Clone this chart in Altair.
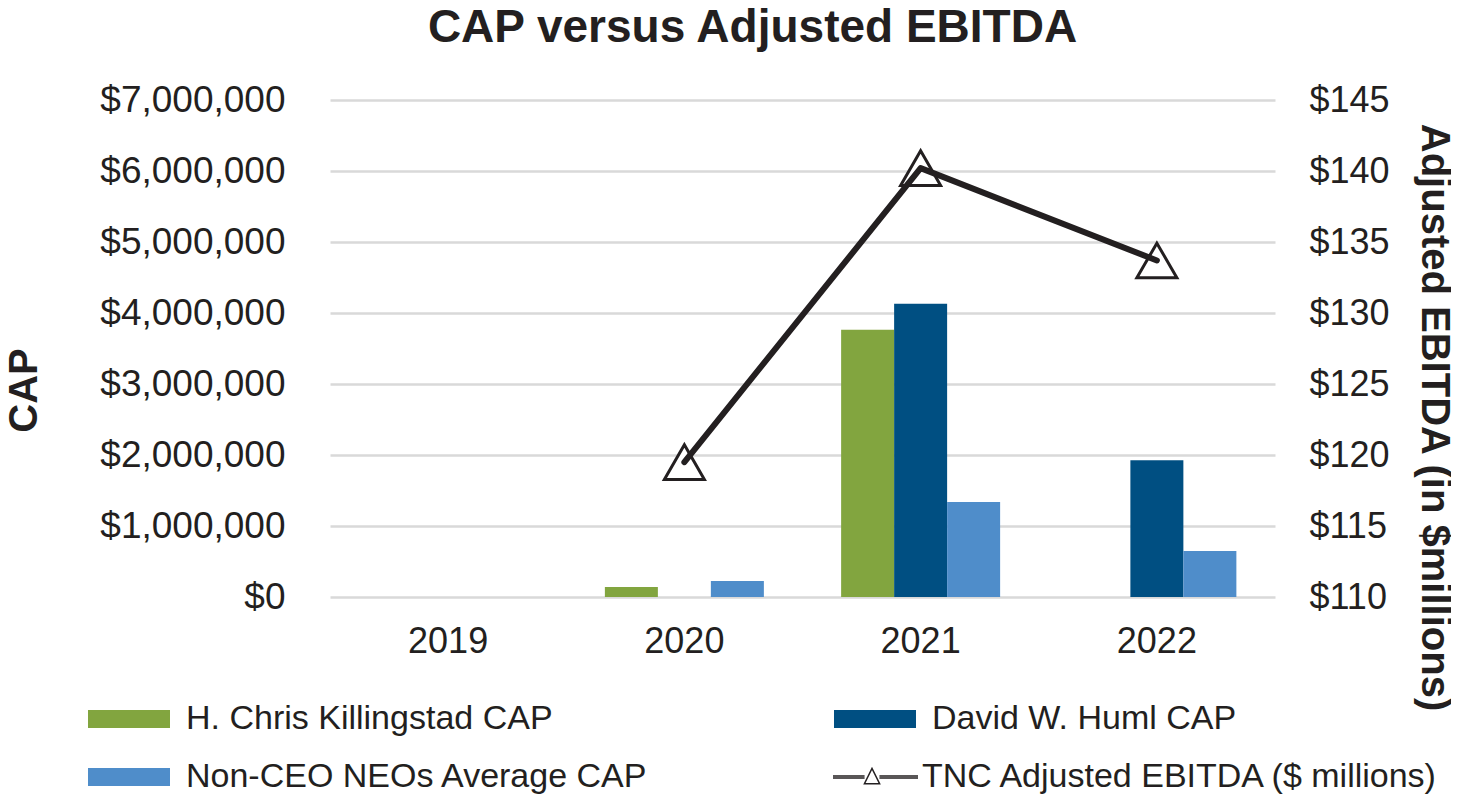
import altair as alt
import pandas as pd

FONT = "Liberation Sans"
TXT = "#231F20"

years = ["2019", "2020", "2021", "2022"]
series_names = ["H. Chris Killingstad CAP", "David W. Huml CAP", "Non-CEO NEOs Average CAP"]
killingstad_cap = [None, 141000, 3765000, None]
huml_cap = [None, None, 4130000, 1925000]
non_ceo_cap = [None, 225000, 1338000, 648000]
series_colors = ["#82A53F", "#004F82", "#4F8DCA"]

ebitda_name = "TNC Adjusted EBITDA ($ millions)"
adjusted_ebitda = [None, 119.5, 140.2, 133.7]

cap_ticks = [0, 1000000, 2000000, 3000000, 4000000, 5000000, 6000000, 7000000]
ebitda_ticks = [110, 115, 120, 125, 130, 135, 140, 145]

rows = []
for name, vals in zip(series_names, [killingstad_cap, huml_cap, non_ceo_cap]):
    for yr, v in zip(years, vals):
        if v is not None:
            rows.append({"year": yr, "series": name, "cap": v})
bars_df = pd.DataFrame(rows)

line_df = pd.DataFrame(
    [{"year": yr, "ebitda": v, "label": ebitda_name} for yr, v in zip(years, adjusted_ebitda) if v is not None]
)

x_enc = alt.X(
    "year:N",
    scale=alt.Scale(domain=years, paddingInner=0.327, paddingOuter=0.1635),
    axis=alt.Axis(title=None, labelAngle=0, domain=False, ticks=False, grid=False,
                  labelPadding=27, labelFontSize=36, labelFont=FONT, labelColor=TXT),
)

bars = alt.Chart(bars_df).mark_bar().encode(
    x=x_enc,
    xOffset=alt.XOffset("series:N", scale=alt.Scale(domain=series_names, paddingInner=0, paddingOuter=0)),
    y=alt.Y(
        "cap:Q",
        scale=alt.Scale(domain=[0, 7000000], nice=False, zero=True),
        axis=alt.Axis(values=cap_ticks, format="$,.0f", title="CAP", titleAngle=270,
                      titleX=-306, titleY=290, titleBaseline="middle", titleAlign="center",
                      titleFontSize=40, titleFont=FONT, titleFontWeight="bold", titleColor=TXT,
                      labelFontSize=37, labelFont=FONT, labelColor=TXT, labelPadding=45, labelLimit=400,
                      domain=False, ticks=False, grid=True, gridColor="#D9D9D9", gridWidth=2.5),
    ),
    color=alt.Color(
        "series:N",
        scale=alt.Scale(domain=series_names, range=series_colors),
        legend=alt.Legend(title=None, orient="none", legendX=-242, legendY=602, columns=2,
                          direction="horizontal",
                          columnPadding=184, rowPadding=24, padding=0,
                          symbolType="M-1.889,-1L7.222,-1L7.222,1L-1.889,1Z", symbolSize=324,
                          symbolStrokeWidth=0, labelOffset=64, labelFontSize=34, labelFont=FONT,
                          labelColor=TXT, labelLimit=900),
    ),
)

y_right_axis = alt.Axis(orient="right", values=ebitda_ticks, format="$.0f",
                        title="Adjusted EBITDA (in $millions)", titleAngle=90, titleX=158, titleY=317,
                        titleBaseline="middle", titleAlign="center",
                        titleFontSize=40, titleFont=FONT, titleFontWeight="bold", titleColor=TXT,
                        labelFontSize=36, labelFont=FONT, labelColor=TXT, labelPadding=34, labelLimit=400,
                        domain=False, ticks=False, grid=False)
y_right_scale = alt.Scale(domain=[110, 145], nice=False, zero=False)

tri = alt.Chart(line_df).mark_point(shape="triangle-up", size=1600, filled=True, fill="white",
                                    strokeWidth=3, opacity=1).encode(
    x=x_enc,
    y=alt.Y("ebitda:Q", scale=y_right_scale, axis=y_right_axis),
    stroke=alt.Stroke(
        "label:N",
        scale=alt.Scale(domain=[ebitda_name], range=[TXT]),
        legend=alt.Legend(title=None, orient="none", legendX=503, legendY=660, padding=0,
                          symbolType="M-1.889,-0.1L1.62,-0.1M-1.889,0.1L1.62,0.1"
                                     "M3.27,-0.1L7.556,-0.1M3.27,0.1L7.556,0.1"
                                     "M1.6,0.75L2.444,-0.95L3.29,0.75Z",
                          symbolSize=324, labelOffset=55, labelFontSize=34, labelFont=FONT,
                          labelColor=TXT, labelLimit=900),
    ),
)

line = alt.Chart(line_df).mark_line(color=TXT, strokeWidth=6, strokeCap="round", strokeJoin="round").encode(
    x=x_enc,
    y=alt.Y("ebitda:Q", scale=y_right_scale, axis=y_right_axis),
)

chart = (
    alt.layer(bars, alt.layer(tri, line))
    .resolve_scale(y="independent")
    .properties(
        width=945,
        height=497,
        background="white",
        title=alt.Title("CAP versus Adjusted EBITDA", fontSize=46, font=FONT, fontWeight="bold",
                        color=TXT, anchor="middle", frame="group", dx=-50, offset=29),
        padding={"left": 322, "top": 92, "right": 176, "bottom": 200},
        autosize=alt.AutoSizeParams(type="none"),
    )
    .configure_view(stroke=None, strokeWidth=0)
    .configure_axis(domain=False)
)

chart.save("out.html", embed_options={"renderer": "svg", "actions": False})
